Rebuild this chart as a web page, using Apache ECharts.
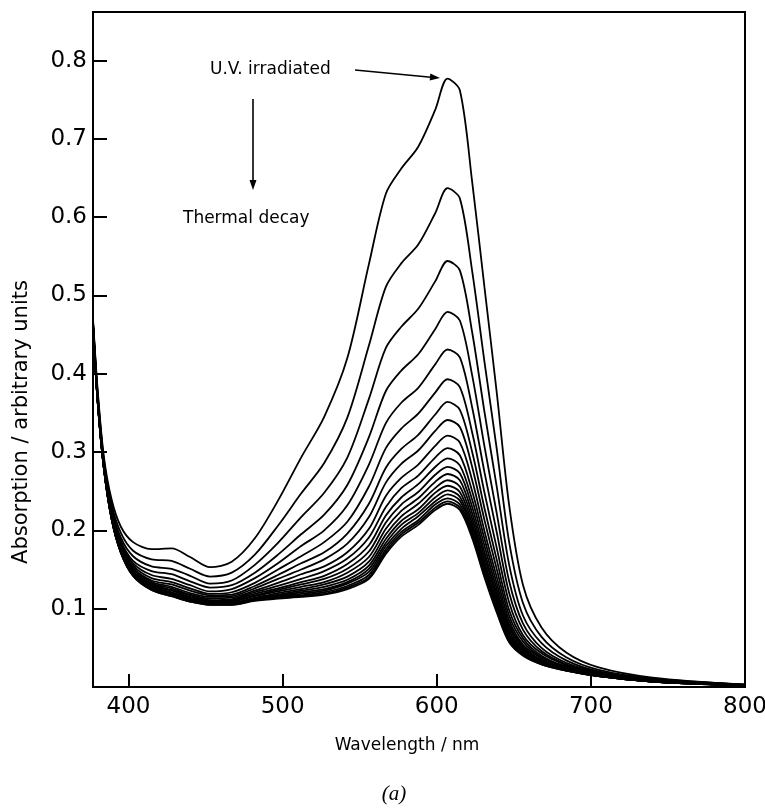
<!DOCTYPE html>
<html>
<head>
<meta charset="utf-8">
<script src="https://cdn.jsdelivr.net/npm/echarts@6/dist/echarts.min.js"></script>
<style>html,body{margin:0;padding:0;background:#fff}#chart{width:765px;height:808px}</style>
</head>
<body>
<div id="chart"></div>
<script>
// Wavelength grid (nm)
const wavelength = [377, 380, 384, 389, 395, 403, 415, 428, 440, 453, 467, 482, 497, 512, 527, 542, 556, 567, 577, 588, 599, 607, 615, 623, 631, 639, 647, 656, 668, 684, 705, 740, 800];

// Absorption spectra, U.V. irradiated (curve01) through thermal decay (curve20)
const curve01 = [0.470, 0.380, 0.295, 0.240, 0.205, 0.185, 0.176, 0.177, 0.166, 0.153, 0.160, 0.190, 0.238, 0.293, 0.345, 0.420, 0.540, 0.630, 0.662, 0.690, 0.737, 0.777, 0.762, 0.645, 0.510, 0.375, 0.232, 0.130, 0.076, 0.044, 0.025, 0.012, 0.003];
const curve02 = [0.467, 0.376, 0.291, 0.234, 0.197, 0.174, 0.163, 0.161, 0.151, 0.141, 0.146, 0.169, 0.206, 0.247, 0.286, 0.344, 0.436, 0.511, 0.541, 0.565, 0.605, 0.637, 0.624, 0.531, 0.415, 0.303, 0.185, 0.107, 0.064, 0.038, 0.022, 0.011, 0.003];
const curve03 = [0.466, 0.374, 0.289, 0.229, 0.191, 0.167, 0.154, 0.151, 0.142, 0.132, 0.136, 0.156, 0.184, 0.217, 0.248, 0.293, 0.368, 0.433, 0.460, 0.483, 0.518, 0.544, 0.532, 0.453, 0.351, 0.255, 0.156, 0.091, 0.056, 0.034, 0.020, 0.010, 0.003];
const curve04 = [0.465, 0.372, 0.287, 0.226, 0.187, 0.161, 0.148, 0.144, 0.135, 0.127, 0.130, 0.146, 0.169, 0.195, 0.220, 0.258, 0.319, 0.378, 0.404, 0.425, 0.457, 0.479, 0.468, 0.398, 0.307, 0.221, 0.135, 0.081, 0.050, 0.031, 0.019, 0.009, 0.003];
const curve05 = [0.464, 0.370, 0.285, 0.224, 0.184, 0.158, 0.143, 0.138, 0.130, 0.122, 0.125, 0.139, 0.158, 0.180, 0.200, 0.232, 0.284, 0.337, 0.363, 0.382, 0.412, 0.431, 0.421, 0.357, 0.274, 0.197, 0.120, 0.073, 0.046, 0.029, 0.018, 0.009, 0.002];
const curve06 = [0.463, 0.369, 0.284, 0.222, 0.182, 0.155, 0.139, 0.134, 0.126, 0.119, 0.121, 0.133, 0.150, 0.167, 0.185, 0.211, 0.256, 0.305, 0.330, 0.349, 0.376, 0.393, 0.383, 0.325, 0.248, 0.177, 0.108, 0.066, 0.043, 0.028, 0.017, 0.008, 0.002];
const curve07 = [0.462, 0.369, 0.284, 0.221, 0.180, 0.152, 0.136, 0.131, 0.123, 0.117, 0.118, 0.129, 0.143, 0.158, 0.172, 0.196, 0.234, 0.280, 0.304, 0.322, 0.348, 0.364, 0.354, 0.300, 0.228, 0.162, 0.098, 0.062, 0.040, 0.026, 0.017, 0.008, 0.002];
const curve08 = [0.462, 0.368, 0.283, 0.220, 0.179, 0.151, 0.134, 0.128, 0.120, 0.115, 0.116, 0.126, 0.138, 0.150, 0.163, 0.183, 0.217, 0.261, 0.285, 0.302, 0.327, 0.341, 0.332, 0.281, 0.213, 0.150, 0.091, 0.058, 0.038, 0.026, 0.016, 0.008, 0.002];
const curve09 = [0.462, 0.367, 0.282, 0.219, 0.177, 0.149, 0.132, 0.126, 0.118, 0.113, 0.114, 0.123, 0.133, 0.144, 0.154, 0.172, 0.202, 0.244, 0.267, 0.284, 0.308, 0.321, 0.312, 0.264, 0.199, 0.140, 0.085, 0.054, 0.037, 0.025, 0.016, 0.008, 0.002];
const curve10 = [0.461, 0.367, 0.282, 0.218, 0.176, 0.148, 0.131, 0.124, 0.117, 0.111, 0.112, 0.121, 0.129, 0.138, 0.148, 0.164, 0.191, 0.230, 0.254, 0.270, 0.293, 0.305, 0.296, 0.250, 0.189, 0.132, 0.080, 0.052, 0.035, 0.024, 0.015, 0.008, 0.002];
const curve11 = [0.461, 0.367, 0.282, 0.218, 0.176, 0.147, 0.130, 0.123, 0.115, 0.110, 0.111, 0.119, 0.126, 0.134, 0.142, 0.157, 0.181, 0.219, 0.242, 0.259, 0.281, 0.292, 0.283, 0.239, 0.180, 0.125, 0.076, 0.050, 0.034, 0.023, 0.015, 0.008, 0.002];
const curve12 = [0.461, 0.366, 0.281, 0.217, 0.175, 0.146, 0.129, 0.121, 0.114, 0.109, 0.110, 0.117, 0.124, 0.131, 0.138, 0.151, 0.173, 0.210, 0.233, 0.249, 0.271, 0.281, 0.273, 0.230, 0.172, 0.119, 0.072, 0.048, 0.033, 0.023, 0.015, 0.007, 0.002];
const curve13 = [0.461, 0.366, 0.281, 0.217, 0.174, 0.145, 0.128, 0.120, 0.113, 0.108, 0.109, 0.116, 0.122, 0.128, 0.134, 0.146, 0.166, 0.202, 0.225, 0.241, 0.262, 0.272, 0.264, 0.222, 0.166, 0.115, 0.069, 0.046, 0.032, 0.023, 0.015, 0.007, 0.002];
const curve14 = [0.461, 0.366, 0.281, 0.216, 0.174, 0.144, 0.127, 0.119, 0.112, 0.108, 0.108, 0.114, 0.120, 0.125, 0.131, 0.141, 0.160, 0.195, 0.218, 0.234, 0.254, 0.264, 0.256, 0.215, 0.160, 0.110, 0.067, 0.045, 0.032, 0.022, 0.015, 0.007, 0.002];
const curve15 = [0.460, 0.366, 0.281, 0.216, 0.173, 0.144, 0.126, 0.119, 0.111, 0.107, 0.107, 0.113, 0.118, 0.123, 0.128, 0.137, 0.155, 0.189, 0.212, 0.227, 0.248, 0.257, 0.249, 0.209, 0.156, 0.107, 0.064, 0.044, 0.031, 0.022, 0.014, 0.007, 0.002];
const curve16 = [0.460, 0.365, 0.280, 0.216, 0.173, 0.143, 0.126, 0.118, 0.111, 0.107, 0.107, 0.113, 0.117, 0.121, 0.125, 0.134, 0.151, 0.184, 0.207, 0.222, 0.242, 0.251, 0.243, 0.204, 0.152, 0.104, 0.062, 0.043, 0.030, 0.022, 0.014, 0.007, 0.002];
const curve17 = [0.460, 0.365, 0.280, 0.216, 0.173, 0.143, 0.125, 0.117, 0.110, 0.106, 0.106, 0.112, 0.116, 0.119, 0.123, 0.132, 0.147, 0.180, 0.202, 0.218, 0.237, 0.246, 0.238, 0.200, 0.148, 0.101, 0.061, 0.042, 0.030, 0.022, 0.014, 0.007, 0.002];
const curve18 = [0.460, 0.365, 0.280, 0.215, 0.172, 0.143, 0.125, 0.117, 0.110, 0.106, 0.106, 0.111, 0.115, 0.117, 0.121, 0.129, 0.143, 0.176, 0.198, 0.213, 0.233, 0.241, 0.233, 0.196, 0.145, 0.099, 0.059, 0.041, 0.030, 0.021, 0.014, 0.007, 0.002];
const curve19 = [0.460, 0.365, 0.280, 0.215, 0.172, 0.142, 0.124, 0.116, 0.109, 0.105, 0.105, 0.111, 0.114, 0.116, 0.119, 0.127, 0.140, 0.173, 0.195, 0.210, 0.229, 0.237, 0.229, 0.193, 0.142, 0.097, 0.058, 0.041, 0.029, 0.021, 0.014, 0.007, 0.002];
const curve20 = [0.460, 0.365, 0.280, 0.215, 0.172, 0.142, 0.124, 0.116, 0.109, 0.105, 0.105, 0.110, 0.113, 0.115, 0.118, 0.125, 0.138, 0.170, 0.192, 0.207, 0.226, 0.234, 0.226, 0.190, 0.140, 0.095, 0.057, 0.040, 0.029, 0.021, 0.014, 0.007, 0.002];

const curves = [curve01, curve02, curve03, curve04, curve05, curve06, curve07, curve08, curve09, curve10,
                curve11, curve12, curve13, curve14, curve15, curve16, curve17, curve18, curve19, curve20];

// Tick labels
const xTicks = [400, 500, 600, 700, 800];
const yTicks = [0.1, 0.2, 0.3, 0.4, 0.5, 0.6, 0.7, 0.8];

const FONT = 'DejaVu Sans';

const chart = echarts.init(document.getElementById('chart'), null, {renderer: 'canvas'});

const series = curves.map((c, k) => ({
  type: 'line',
  name: 'curve' + (k + 1),
  data: wavelength.map((w, i) => [w, c[i]]),
  showSymbol: false,
  symbol: 'none',
  smooth: 0.3,
  lineStyle: {color: '#000', width: 1.8},
  z: 3
}));

chart.setOption({
  animation: false,
  backgroundColor: '#fff',
  grid: {left: 93, top: 12, right: 20, bottom: 121, outerBoundsMode: 'none', containLabel: false,
         show: true, borderColor: '#000', borderWidth: 2, backgroundColor: 'transparent'},
  xAxis: {
    type: 'value', min: 377, max: 800,
    axisLine: {show: true, onZero: false, lineStyle: {color: '#000', width: 2}},
    axisTick: {show: true, inside: true, length: 13, customValues: xTicks, lineStyle: {color: '#000', width: 2}},
    axisLabel: {show: true, customValues: xTicks, margin: 9, color: '#000', fontFamily: FONT, fontSize: 23},
    splitLine: {show: false}
  },
  yAxis: {
    type: 'value', min: 0, max: 0.862,
    axisLine: {show: true, onZero: false, lineStyle: {color: '#000', width: 2}},
    axisTick: {show: true, inside: true, length: 14, customValues: yTicks, lineStyle: {color: '#000', width: 2}},
    axisLabel: {show: true, customValues: yTicks, margin: 6, color: '#000', fontFamily: FONT, fontSize: 23,
      formatter: v => v.toFixed(1)},
    splitLine: {show: false}
  },
  graphic: [
    {type: 'text', x: 210, y: 70, style: {text: 'U.V. irradiated', fontFamily: FONT, fontSize: 17, fill: '#000', align: 'left', verticalAlign: 'middle'}},
    {type: 'line', shape: {x1: 355, y1: 70, x2: 431, y2: 77.2}, style: {stroke: '#000', lineWidth: 1.6}},
    {type: 'polygon', shape: {points: [[440, 78], [430.3, 73.6], [429.7, 80.5]]}, style: {fill: '#000'}},
    {type: 'line', shape: {x1: 253, y1: 99, x2: 253, y2: 182}, style: {stroke: '#000', lineWidth: 1.6}},
    {type: 'polygon', shape: {points: [[253, 190], [249.5, 180], [256.5, 180]]}, style: {fill: '#000'}},
    {type: 'text', x: 183, y: 219, style: {text: 'Thermal decay', fontFamily: FONT, fontSize: 17, fill: '#000', align: 'left', verticalAlign: 'middle'}},
    {type: 'text', x: 22, y: 422, rotation: Math.PI / 2, style: {text: 'Absorption / arbitrary units', fontFamily: FONT, fontSize: 21, fill: '#000', align: 'center', verticalAlign: 'middle'}},
    {type: 'text', x: 407, y: 746, style: {text: 'Wavelength / nm', fontFamily: FONT, fontSize: 17, fill: '#000', align: 'center', verticalAlign: 'middle'}},
    {type: 'text', x: 394, y: 794, style: {text: '(a)', fontFamily: 'Liberation Serif', fontStyle: 'italic', fontSize: 21, fill: '#000', align: 'center', verticalAlign: 'middle'}}
  ],
  series: series
});
</script>
</body>
</html>
